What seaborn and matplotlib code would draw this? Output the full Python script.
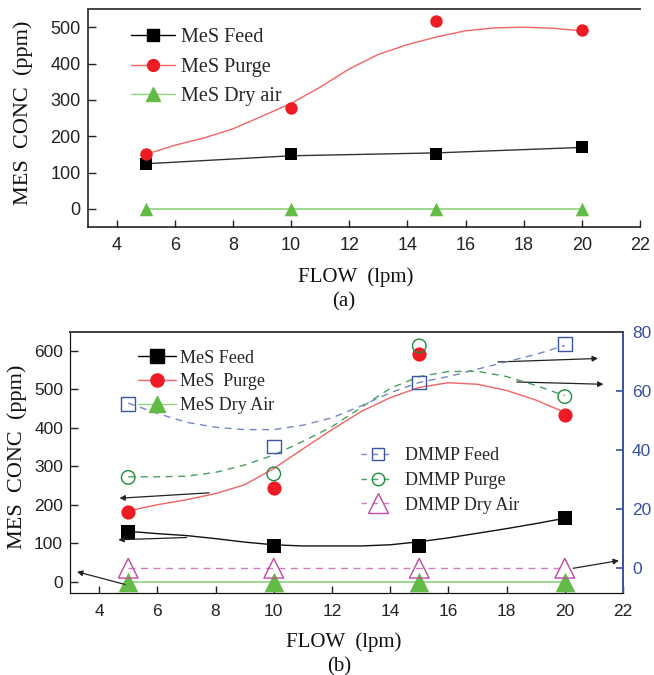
import numpy as np
import pandas as pd
import matplotlib
matplotlib.use("Agg")
import matplotlib.pyplot as plt
from matplotlib.lines import Line2D
import seaborn as sns

# ---------------- data ----------------
flow = [5, 10, 15, 20]
fit_flow = [5, 6, 7, 8, 9, 10, 11, 12, 13, 14, 15, 16, 17, 18, 19, 20]

# panel (a)
a_mes_feed = [123, 151, 151, 171]
a_mes_purge = [151, 278, 518, 491]
a_mes_dry = [0, 0, 0, 0]
a_feed_fit = [124, 146, 154, 169]
a_purge_fit = [150, 175, 195, 220, 255, 290, 335, 385, 425, 452, 473, 490, 498, 500, 497, 490]

# panel (b) – MeS (left axis, ppm)
b_mes_feed = [130, 93, 93, 165]
b_mes_purge = [182, 244, 591, 433]
b_mes_dry = [0, 0, 0, 0]
b_mes_feed_fit = [131, 125, 120, 112, 103, 96, 93, 93, 93, 96, 104, 114, 126, 138, 151, 165]
b_mes_purge_fit = [184, 200, 213, 229, 252, 294, 345, 395, 442, 478, 505, 517, 513, 497, 472, 440]

# panel (b) – DMMP (right axis)
b_dmmp_feed = [55.7, 41.2, 63.0, 76.0]
b_dmmp_purge = [30.8, 32.0, 75.4, 58.2]
b_dmmp_dry = [0, 0, 0, 0]
b_dmmp_feed_fit = [56, 52.5, 49.5, 47.8, 47, 47, 48.5, 51, 55, 59.5, 63, 65, 67.5, 70, 72.5, 75.5]
b_dmmp_purge_fit = [31, 31, 31.2, 32.5, 35, 38.4, 43, 48, 54.5, 61, 65, 66.7, 66.8, 65, 62, 58.5]

# annotation arrows in panel (b): (x_tail, y_tail, x_head, y_head) in left-axis data units
b_arrows = [
    (7.78, 231, 4.70, 217),
    (7.01, 115, 4.66, 109),
    (4.89, -7, 3.24, 26),
    (20.29, 35, 21.86, 55),
    (17.71, 571, 21.14, 580),
    (18.35, 519, 21.33, 513),
]

x_ticks = [4, 6, 8, 10, 12, 14, 16, 18, 20, 22]
a_yticks = [0, 100, 200, 300, 400, 500]
b_yticks = [0, 100, 200, 300, 400, 500, 600]
b_rticks = [0, 20, 40, 60, 80]

# ---------------- style ----------------
sns.set_style("ticks")
plt.rcParams["font.family"] = ["Liberation Sans", "DejaVu Sans"]
SERIF = ["Liberation Serif", "DejaVu Serif"]

BLACK = "#000000"
RED_M, RED_L = "#ed1c24", "#f26464"
GRN_M, GRN_L = "#62bb46", "#8fd27e"
BLUE_M, BLUE_L = "#3d55a5", "#7587c6"
DGRN_M, DGRN_L = "#1f8b3e", "#46a062"
PINK_M, PINK_L = "#bf4a9e", "#d27cbe"
AXBLUE = "#3a50a0"
TICKC = "#222222"

fig = plt.figure(figsize=(6.54, 6.75), dpi=100)
W, H = 654.0, 675.0


def add_axes(l, r, t, b):
    return fig.add_axes([l / W, 1 - b / H, (r - l) / W, (b - t) / H])


def curve(ax, xs, ys, color, lw=1.0, ls="-"):
    sns.lineplot(x=xs, y=ys, ax=ax, color=color, lw=lw, linestyle=ls,
                 legend=False, errorbar=None, sort=True)


def pts(ax, xs, ys, marker, s, color, open_=False, lw=1.0, z=3):
    if open_:
        sns.scatterplot(x=xs, y=ys, ax=ax, marker=marker, s=s, facecolor="none",
                        edgecolor=color, linewidth=lw, legend=False, zorder=z)
    else:
        sns.scatterplot(x=xs, y=ys, ax=ax, marker=marker, s=s, color=color,
                        edgecolor=color, linewidth=0, legend=False, zorder=z)


# ================= panel (a) =================
axa = add_axes(87.5, 640, 9, 227)
curve(axa, fit_flow, a_purge_fit, RED_L)
curve(axa, flow, a_feed_fit, "#333333")
curve(axa, flow, a_mes_dry, GRN_L, lw=1.2)
pts(axa, flow, a_mes_feed, "s", 70, BLACK)
pts(axa, flow, a_mes_purge, "o", 80, RED_M)
pts(axa, flow, a_mes_dry, "^", 95, GRN_M)

axa.set_xlim(3, 22)
axa.set_ylim(-50, 550)
axa.set_xticks(x_ticks)
axa.set_yticks(a_yticks)
axa.tick_params(axis="both", direction="in", labelsize=13, colors=TICKC, width=1)
axa.tick_params(axis="x", length=5, pad=7)
axa.tick_params(axis="y", length=5.5, pad=5)
for side in ["left", "bottom"]:
    axa.spines[side].set_color("#111111")
    axa.spines[side].set_linewidth(1.1)
axa.spines["top"].set_color("#444444")
axa.spines["top"].set_linewidth(1.4)
axa.spines["right"].set_visible(False)
axa.set_xlabel("FLOW  (lpm)", family=SERIF, fontsize=15, va="center", color="#111111")
axa.xaxis.set_label_coords(0.486, -0.228)
axa.set_ylabel("MES  CONC  (ppm)", family=SERIF, fontsize=16, va="center", color="#111111")
axa.yaxis.set_label_coords(-0.117, 0.524)

ha = [
    Line2D([], [], color=BLACK, lw=1, marker="s", ms=8, mfc=BLACK, mec=BLACK),
    Line2D([], [], color=RED_L, lw=1, marker="o", ms=8.5, mfc=RED_M, mec=RED_M),
    Line2D([], [], color=GRN_L, lw=1, marker="^", ms=10, mfc=GRN_M, mec=GRN_M),
]
lega = axa.legend(ha, ["MeS Feed", "MeS Purge", "MeS Dry air"], loc="upper left",
                  bbox_to_anchor=(0.079, 0.911), frameon=False, borderpad=0,
                  borderaxespad=0, handlelength=2.2, handletextpad=0.3,
                  labelspacing=0.5, prop={"family": SERIF, "size": 14.5})

fig.text(344 / W, 1 - 301.7 / H, "(a)", family=SERIF, fontsize=15,
         ha="center", va="center", color="#111111")

# ================= panel (b) =================
axb = add_axes(70, 623, 332.3, 593.3)
axr = axb.twinx()

curve(axb, fit_flow, b_mes_purge_fit, RED_L)
curve(axb, fit_flow, b_mes_feed_fit, "#111111")
curve(axb, flow, b_mes_dry, GRN_L, lw=1.2)
pts(axb, flow, b_mes_feed, "s", 90, BLACK)
pts(axb, flow, b_mes_purge, "o", 105, RED_M)
pts(axb, flow, b_mes_dry, "^", 200, GRN_M)

dash = (0, (5, 4))
curve(axr, fit_flow, b_dmmp_feed_fit, BLUE_L, ls=dash)
curve(axr, fit_flow, b_dmmp_purge_fit, DGRN_L, ls=dash)
curve(axr, flow, b_dmmp_dry, PINK_L, ls=dash)
pts(axr, flow, b_dmmp_feed, "s", 95, BLUE_M, open_=True)
pts(axr, flow, b_dmmp_purge, "o", 95, DGRN_M, open_=True)
pts(axr, flow, b_dmmp_dry, "^", 200, PINK_M, open_=True)

for (xt, yt, xh, yh) in b_arrows:
    axb.annotate("", xy=(xh, yh), xytext=(xt, yt),
                 arrowprops=dict(arrowstyle="-|>", color="#222222", lw=0.9,
                                 mutation_scale=8, shrinkA=0, shrinkB=0),
                 zorder=5)

axb.set_xlim(3, 22)
axb.set_ylim(-30, 648)
axr.set_ylim(-8.5, 80)
axb.set_xticks(x_ticks)
axb.set_yticks(b_yticks)
axr.set_yticks(b_rticks)
axb.tick_params(axis="both", direction="in", labelsize=12.5, colors=TICKC, width=1)
axb.tick_params(axis="x", length=5, pad=8)
axb.tick_params(axis="y", length=5.5, pad=5)
axr.tick_params(axis="y", direction="in", labelsize=12.5, colors=AXBLUE, length=5,
                width=1.2, pad=6.5)
for a in (axb, axr):
    a.spines["left"].set_color("#111111")
    a.spines["bottom"].set_color("#111111")
    a.spines["top"].set_color("#444444")
    a.spines["top"].set_linewidth(1.4)
    a.spines["right"].set_color(AXBLUE)
    a.spines["right"].set_linewidth(1.2)
axb.set_xlabel("FLOW  (lpm)", family=SERIF, fontsize=15, va="center", color="#111111")
axb.xaxis.set_label_coords(0.4946, -0.1854)
axb.set_ylabel("MES  CONC  (ppm)", family=SERIF, fontsize=16, va="center", color="#111111")
axb.yaxis.set_label_coords(-0.0964, 0.523)
axr.set_ylabel("")

hb1 = [
    Line2D([], [], color=BLACK, lw=1, marker="s", ms=9.5, mfc=BLACK, mec=BLACK),
    Line2D([], [], color=RED_L, lw=1, marker="o", ms=9.5, mfc=RED_M, mec=RED_M),
    Line2D([], [], color=GRN_L, lw=1, marker="^", ms=12, mfc=GRN_M, mec=GRN_M),
]
leg1 = axr.legend(hb1, ["MeS Feed", "MeS  Purge", "MeS Dry Air"], loc="upper left",
                  bbox_to_anchor=(0.123, 0.934), frameon=False, borderpad=0,
                  borderaxespad=0, handlelength=2.1, handletextpad=0.25,
                  labelspacing=0.37, prop={"family": SERIF, "size": 13})
axr.add_artist(leg1)
hb2 = [
    Line2D([], [], color=BLUE_L, lw=1, ls=(0, (4, 4)), marker="s", ms=9, mfc="none", mec=BLUE_M),
    Line2D([], [], color=DGRN_L, lw=1, ls=(0, (4, 4)), marker="o", ms=9, mfc="none", mec=DGRN_M),
    Line2D([], [], color=PINK_L, lw=1, ls=(0, (4, 4)), marker="^", ms=14, mfc="none", mec=PINK_M),
]
leg2 = axr.legend(hb2, ["DMMP Feed", "DMMP Purge", "DMMP Dry Air"], loc="upper left",
                  bbox_to_anchor=(0.527, 0.559), frameon=False, borderpad=0,
                  borderaxespad=0, handlelength=1.8, handletextpad=0.6,
                  labelspacing=0.42, prop={"family": SERIF, "size": 13})

fig.text(339.6 / W, 1 - 666.7 / H, "(b)", family=SERIF, fontsize=15,
         ha="center", va="center", color="#111111")

fig.savefig("out.png", dpi=100)
